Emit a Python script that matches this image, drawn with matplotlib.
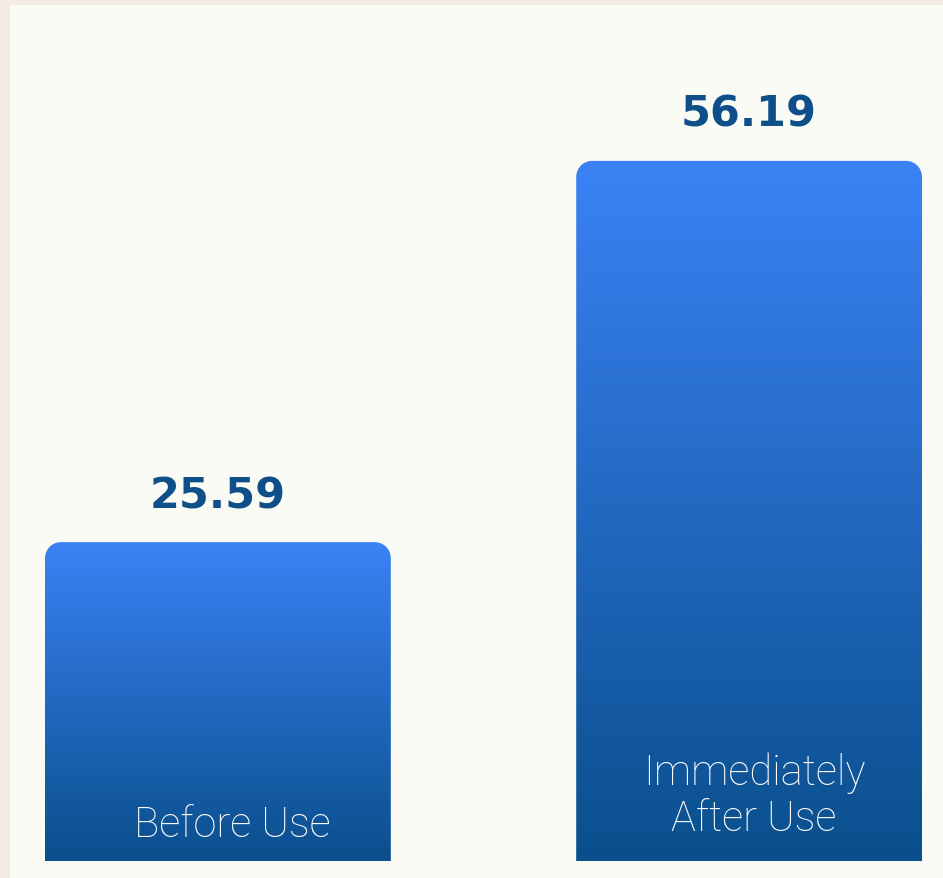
import numpy as np
import matplotlib
matplotlib.use("Agg")
import matplotlib.pyplot as plt
from matplotlib.path import Path
from matplotlib.patches import PathPatch, Rectangle
from matplotlib.colors import LinearSegmentedColormap

categories = ["Before Use", "Immediately\nAfter Use"]
values = [25.59, 56.19]
value_labels = ["25.59", "56.19"]

W, H, DPI = 943, 879, 100
fig = plt.figure(figsize=(W / DPI, H / DPI), dpi=DPI)
fig.patch.set_facecolor("#f4ebe3")

bg = fig.add_axes([0, 0, 1, 1], zorder=-10)
bg.set_xlim(0, W)
bg.set_ylim(H, 0)
bg.axis("off")
bg.add_patch(Rectangle((10, 6), W, H, facecolor="#fbfbf5", edgecolor="none"))

ax = fig.add_axes([45 / W, (H - 862) / H, (922 - 45) / W, (862 - 6) / H], zorder=1)
ax.set_facecolor("none")
bw = 346 / 531.5
ax.axis("off")

cmap = LinearSegmentedColormap.from_list("g", ["#0a4f8c", "#3b82f6"])
grad = np.linspace(0, 1, 256).reshape(-1, 1)

px_x = 531.5  # px per x unit
px_y = 12.46  # px per y unit
r_px = 16
rx, ry = r_px / px_x, r_px / px_y

for i, v in enumerate(values):
    x0, x1 = i - bw / 2, i + bw / 2
    t = np.linspace(0, np.pi / 2, 20)
    pts = [(x0, 0)]
    for a in t:
        pts.append((x0 + rx - rx * np.cos(a), v - ry + ry * np.sin(a)))
    for a in t[::-1]:
        pts.append((x1 - rx + rx * np.cos(a), v - ry + ry * np.sin(a)))
    pts.append((x1, 0))
    pts.append((x0, 0))
    path = Path(pts, closed=True)
    patch = PathPatch(path, facecolor="none", edgecolor="none")
    ax.add_patch(patch)
    im = ax.imshow(grad, extent=[x0, x1, 0, v], origin="lower", cmap=cmap,
                   aspect="auto", interpolation="bicubic", zorder=2)
    im.set_clip_path(patch)
    ax.text(i, v + 47 / px_y, value_labels[i], ha="center", va="center",
            fontsize=31, fontweight="bold", family="DejaVu Sans",
            color="#0e4f8a", zorder=3)

ax.set_xlim(-bw / 2, 1 + bw / 2)
ax.set_ylim(0, 856 / 12.46)

ax.text(0 + 14 / px_x, 36 / px_y, categories[0], ha="center", va="center",
        fontsize=30, family="Roboto", fontweight="light", color="white", zorder=3)
ax.text(1 + 5 / px_x, 66 / px_y, categories[1], ha="center", va="center",
        fontsize=30, family="Roboto", fontweight="light", color="white",
        linespacing=1.15, zorder=3)

fig.savefig("out.png", dpi=DPI, facecolor=fig.get_facecolor())
